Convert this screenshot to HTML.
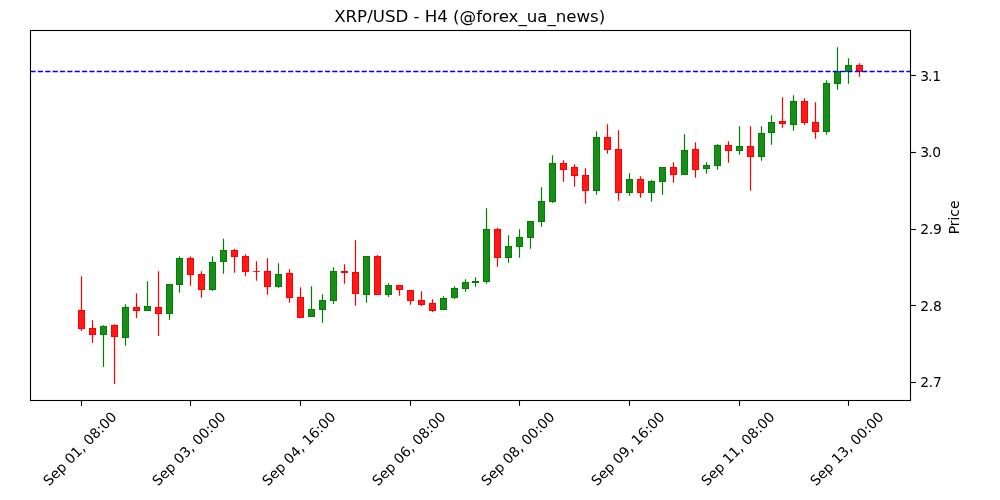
<!DOCTYPE html>
<html><head><meta charset="utf-8"><title>XRP/USD - H4</title>
<style>
html,body{margin:0;padding:0;background:#fff;}
body{width:1000px;height:500px;overflow:hidden;}
svg{display:block;}
text{font-family:"DejaVu Sans","Liberation Sans",sans-serif;font-size:13.89px;fill:#000;}
.title{font-size:16.67px;}
</style></head><body>
<svg width="1000" height="500" viewBox="0 0 1000 500">
<rect width="1000" height="500" fill="#fff"/>
<g>
<line x1="81.50" y1="276.25" x2="81.50" y2="330.95" stroke="#ff0000" stroke-width="1.2"/>
<rect x="78.5" y="310.5" width="6" height="18" fill="#ff1a1a" stroke="#ff0000" stroke-width="1"/>
<line x1="92.50" y1="320.25" x2="92.50" y2="342.95" stroke="#ff0000" stroke-width="1.2"/>
<rect x="89.5" y="328.5" width="6" height="6" fill="#ff1a1a" stroke="#ff0000" stroke-width="1"/>
<line x1="103.50" y1="325.25" x2="103.50" y2="366.95" stroke="#008000" stroke-width="1.2"/>
<rect x="100.5" y="326.5" width="6" height="8" fill="#1a8c1a" stroke="#008000" stroke-width="1"/>
<line x1="114.50" y1="324.25" x2="114.50" y2="383.95" stroke="#ff0000" stroke-width="1.2"/>
<rect x="111.5" y="325.5" width="6" height="11" fill="#ff1a1a" stroke="#ff0000" stroke-width="1"/>
<line x1="125.50" y1="304.25" x2="125.50" y2="345.75" stroke="#008000" stroke-width="1.2"/>
<rect x="122.5" y="307.5" width="6" height="30" fill="#1a8c1a" stroke="#008000" stroke-width="1"/>
<line x1="136.50" y1="293.25" x2="136.50" y2="317.95" stroke="#ff0000" stroke-width="1.2"/>
<rect x="133.5" y="307.5" width="6" height="3" fill="#ff1a1a" stroke="#ff0000" stroke-width="1"/>
<line x1="147.50" y1="281.25" x2="147.50" y2="311" stroke="#008000" stroke-width="1.2"/>
<rect x="144.5" y="306.5" width="6" height="4" fill="#1a8c1a" stroke="#008000" stroke-width="1"/>
<line x1="158.50" y1="271.25" x2="158.50" y2="335.95" stroke="#ff0000" stroke-width="1.2"/>
<rect x="155.5" y="307.5" width="6" height="6" fill="#ff1a1a" stroke="#ff0000" stroke-width="1"/>
<line x1="169.50" y1="284" x2="169.50" y2="319.85" stroke="#008000" stroke-width="1.2"/>
<rect x="166.5" y="284.5" width="6" height="29" fill="#1a8c1a" stroke="#008000" stroke-width="1"/>
<line x1="179.50" y1="256.3" x2="179.50" y2="292.75" stroke="#008000" stroke-width="1.2"/>
<rect x="176.5" y="258.5" width="6" height="26" fill="#1a8c1a" stroke="#008000" stroke-width="1"/>
<line x1="190.50" y1="256.3" x2="190.50" y2="285.75" stroke="#ff0000" stroke-width="1.2"/>
<rect x="187.5" y="258.5" width="6" height="16" fill="#ff1a1a" stroke="#ff0000" stroke-width="1"/>
<line x1="201.50" y1="271.25" x2="201.50" y2="297.75" stroke="#ff0000" stroke-width="1.2"/>
<rect x="198.5" y="274.5" width="6" height="15" fill="#ff1a1a" stroke="#ff0000" stroke-width="1"/>
<line x1="212.50" y1="256.3" x2="212.50" y2="290.85" stroke="#008000" stroke-width="1.2"/>
<rect x="209.5" y="262.5" width="6" height="27" fill="#1a8c1a" stroke="#008000" stroke-width="1"/>
<line x1="223.50" y1="238.85" x2="223.50" y2="273.75" stroke="#008000" stroke-width="1.2"/>
<rect x="220.5" y="250.5" width="6" height="11" fill="#1a8c1a" stroke="#008000" stroke-width="1"/>
<line x1="234.50" y1="248.85" x2="234.50" y2="272.75" stroke="#ff0000" stroke-width="1.2"/>
<rect x="231.5" y="250.5" width="6" height="6" fill="#ff1a1a" stroke="#ff0000" stroke-width="1"/>
<line x1="245.50" y1="254.25" x2="245.50" y2="275.95" stroke="#ff0000" stroke-width="1.2"/>
<rect x="242.5" y="256.5" width="6" height="15" fill="#ff1a1a" stroke="#ff0000" stroke-width="1"/>
<line x1="256.50" y1="261.25" x2="256.50" y2="280.75" stroke="#ff0000" stroke-width="1.2"/>
<rect x="253" y="271" width="7" height="1" fill="#ff0000" opacity="0.85"/>
<line x1="267.50" y1="258.25" x2="267.50" y2="294.75" stroke="#ff0000" stroke-width="1.2"/>
<rect x="264.5" y="271.5" width="6" height="15" fill="#ff1a1a" stroke="#ff0000" stroke-width="1"/>
<line x1="278.50" y1="263.25" x2="278.50" y2="287.95" stroke="#008000" stroke-width="1.2"/>
<rect x="275.5" y="274.5" width="6" height="12" fill="#1a8c1a" stroke="#008000" stroke-width="1"/>
<line x1="289.50" y1="269.25" x2="289.50" y2="302.75" stroke="#ff0000" stroke-width="1.2"/>
<rect x="286.5" y="273.5" width="6" height="24" fill="#ff1a1a" stroke="#ff0000" stroke-width="1"/>
<line x1="300.50" y1="287.25" x2="300.50" y2="318" stroke="#ff0000" stroke-width="1.2"/>
<rect x="297.5" y="297.5" width="6" height="20" fill="#ff1a1a" stroke="#ff0000" stroke-width="1"/>
<line x1="311.50" y1="286.25" x2="311.50" y2="317" stroke="#008000" stroke-width="1.2"/>
<rect x="308.5" y="309.5" width="6" height="7" fill="#1a8c1a" stroke="#008000" stroke-width="1"/>
<line x1="322.50" y1="294.25" x2="322.50" y2="322.75" stroke="#008000" stroke-width="1.2"/>
<rect x="319.5" y="300.5" width="6" height="9" fill="#1a8c1a" stroke="#008000" stroke-width="1"/>
<line x1="333.50" y1="267.25" x2="333.50" y2="303.95" stroke="#008000" stroke-width="1.2"/>
<rect x="330.5" y="271.5" width="6" height="29" fill="#1a8c1a" stroke="#008000" stroke-width="1"/>
<line x1="344.50" y1="264.25" x2="344.50" y2="283.75" stroke="#ff0000" stroke-width="1.2"/>
<rect x="341.5" y="271.5" width="6" height="1" fill="#ff1a1a" stroke="#ff0000" stroke-width="1"/>
<line x1="355.50" y1="240.25" x2="355.50" y2="305.75" stroke="#ff0000" stroke-width="1.2"/>
<rect x="352.5" y="272.5" width="6" height="21" fill="#ff1a1a" stroke="#ff0000" stroke-width="1"/>
<line x1="366.50" y1="256" x2="366.50" y2="302.75" stroke="#008000" stroke-width="1.2"/>
<rect x="363.5" y="256.5" width="6" height="38" fill="#1a8c1a" stroke="#008000" stroke-width="1"/>
<line x1="377.50" y1="255.05" x2="377.50" y2="295" stroke="#ff0000" stroke-width="1.2"/>
<rect x="374.5" y="256.5" width="6" height="38" fill="#ff1a1a" stroke="#ff0000" stroke-width="1"/>
<line x1="388.50" y1="283.25" x2="388.50" y2="296.95" stroke="#008000" stroke-width="1.2"/>
<rect x="385.5" y="285.5" width="6" height="9" fill="#1a8c1a" stroke="#008000" stroke-width="1"/>
<line x1="399.50" y1="285" x2="399.50" y2="295.75" stroke="#ff0000" stroke-width="1.2"/>
<rect x="396.5" y="285.5" width="6" height="4" fill="#ff1a1a" stroke="#ff0000" stroke-width="1"/>
<line x1="410.50" y1="290" x2="410.50" y2="304.75" stroke="#ff0000" stroke-width="1.2"/>
<rect x="407.5" y="290.5" width="6" height="10" fill="#ff1a1a" stroke="#ff0000" stroke-width="1"/>
<line x1="421.50" y1="291.25" x2="421.50" y2="305.95" stroke="#ff0000" stroke-width="1.2"/>
<rect x="418.5" y="300.5" width="6" height="4" fill="#ff1a1a" stroke="#ff0000" stroke-width="1"/>
<line x1="432.50" y1="299.25" x2="432.50" y2="311.95" stroke="#ff0000" stroke-width="1.2"/>
<rect x="429.5" y="303.5" width="6" height="7" fill="#ff1a1a" stroke="#ff0000" stroke-width="1"/>
<line x1="443.50" y1="296.25" x2="443.50" y2="310" stroke="#008000" stroke-width="1.2"/>
<rect x="440.5" y="298.5" width="6" height="11" fill="#1a8c1a" stroke="#008000" stroke-width="1"/>
<line x1="454.50" y1="286.25" x2="454.50" y2="298.95" stroke="#008000" stroke-width="1.2"/>
<rect x="451.5" y="288.5" width="6" height="9" fill="#1a8c1a" stroke="#008000" stroke-width="1"/>
<line x1="465.50" y1="279.25" x2="465.50" y2="291.75" stroke="#008000" stroke-width="1.2"/>
<rect x="462.5" y="282.5" width="6" height="6" fill="#1a8c1a" stroke="#008000" stroke-width="1"/>
<line x1="475.50" y1="277.25" x2="475.50" y2="286.75" stroke="#008000" stroke-width="1.2"/>
<rect x="472.5" y="281.5" width="6" height="1" fill="#1a8c1a" stroke="#008000" stroke-width="1"/>
<line x1="486.50" y1="208.25" x2="486.50" y2="283.75" stroke="#008000" stroke-width="1.2"/>
<rect x="483.5" y="229.5" width="6" height="52" fill="#1a8c1a" stroke="#008000" stroke-width="1"/>
<line x1="497.50" y1="228.05" x2="497.50" y2="266.75" stroke="#ff0000" stroke-width="1.2"/>
<rect x="494.5" y="229.5" width="6" height="28" fill="#ff1a1a" stroke="#ff0000" stroke-width="1"/>
<line x1="508.50" y1="235.25" x2="508.50" y2="262.75" stroke="#008000" stroke-width="1.2"/>
<rect x="505.5" y="246.5" width="6" height="11" fill="#1a8c1a" stroke="#008000" stroke-width="1"/>
<line x1="519.50" y1="229.25" x2="519.50" y2="257.75" stroke="#008000" stroke-width="1.2"/>
<rect x="516.5" y="237.5" width="6" height="9" fill="#1a8c1a" stroke="#008000" stroke-width="1"/>
<line x1="530.50" y1="221" x2="530.50" y2="248.75" stroke="#008000" stroke-width="1.2"/>
<rect x="527.5" y="221.5" width="6" height="16" fill="#1a8c1a" stroke="#008000" stroke-width="1"/>
<line x1="541.50" y1="187.25" x2="541.50" y2="226.75" stroke="#008000" stroke-width="1.2"/>
<rect x="538.5" y="201.5" width="6" height="20" fill="#1a8c1a" stroke="#008000" stroke-width="1"/>
<line x1="552.50" y1="155.25" x2="552.50" y2="202.95" stroke="#008000" stroke-width="1.2"/>
<rect x="549.5" y="163.5" width="6" height="38" fill="#1a8c1a" stroke="#008000" stroke-width="1"/>
<line x1="563.50" y1="160.25" x2="563.50" y2="181.75" stroke="#ff0000" stroke-width="1.2"/>
<rect x="560.5" y="163.5" width="6" height="6" fill="#ff1a1a" stroke="#ff0000" stroke-width="1"/>
<line x1="574.50" y1="164.25" x2="574.50" y2="186.75" stroke="#ff0000" stroke-width="1.2"/>
<rect x="571.5" y="167.5" width="6" height="8" fill="#ff1a1a" stroke="#ff0000" stroke-width="1"/>
<line x1="585.50" y1="168.25" x2="585.50" y2="203.75" stroke="#ff0000" stroke-width="1.2"/>
<rect x="582.5" y="175.5" width="6" height="15" fill="#ff1a1a" stroke="#ff0000" stroke-width="1"/>
<line x1="596.50" y1="131.25" x2="596.50" y2="194.75" stroke="#008000" stroke-width="1.2"/>
<rect x="593.5" y="137.5" width="6" height="53" fill="#1a8c1a" stroke="#008000" stroke-width="1"/>
<line x1="607.50" y1="124.25" x2="607.50" y2="153.75" stroke="#ff0000" stroke-width="1.2"/>
<rect x="604.5" y="137.5" width="6" height="12" fill="#ff1a1a" stroke="#ff0000" stroke-width="1"/>
<line x1="618.50" y1="130.25" x2="618.50" y2="200.75" stroke="#ff0000" stroke-width="1.2"/>
<rect x="615.5" y="149.5" width="6" height="43" fill="#ff1a1a" stroke="#ff0000" stroke-width="1"/>
<line x1="629.50" y1="173.25" x2="629.50" y2="195.75" stroke="#008000" stroke-width="1.2"/>
<rect x="626.5" y="179.5" width="6" height="13" fill="#1a8c1a" stroke="#008000" stroke-width="1"/>
<line x1="640.50" y1="176.25" x2="640.50" y2="197.75" stroke="#ff0000" stroke-width="1.2"/>
<rect x="637.5" y="179.5" width="6" height="13" fill="#ff1a1a" stroke="#ff0000" stroke-width="1"/>
<line x1="651.50" y1="179.85" x2="651.50" y2="201.75" stroke="#008000" stroke-width="1.2"/>
<rect x="648.5" y="181.5" width="6" height="11" fill="#1a8c1a" stroke="#008000" stroke-width="1"/>
<line x1="662.50" y1="167" x2="662.50" y2="194.75" stroke="#008000" stroke-width="1.2"/>
<rect x="659.5" y="167.5" width="6" height="14" fill="#1a8c1a" stroke="#008000" stroke-width="1"/>
<line x1="673.50" y1="162.25" x2="673.50" y2="182.75" stroke="#ff0000" stroke-width="1.2"/>
<rect x="670.5" y="167.5" width="6" height="7" fill="#ff1a1a" stroke="#ff0000" stroke-width="1"/>
<line x1="684.50" y1="134.25" x2="684.50" y2="175" stroke="#008000" stroke-width="1.2"/>
<rect x="681.5" y="150.5" width="6" height="24" fill="#1a8c1a" stroke="#008000" stroke-width="1"/>
<line x1="695.50" y1="142.25" x2="695.50" y2="177.75" stroke="#ff0000" stroke-width="1.2"/>
<rect x="692.5" y="149.5" width="6" height="20" fill="#ff1a1a" stroke="#ff0000" stroke-width="1"/>
<line x1="706.50" y1="162.25" x2="706.50" y2="173.75" stroke="#008000" stroke-width="1.2"/>
<rect x="703.5" y="165.5" width="6" height="3" fill="#1a8c1a" stroke="#008000" stroke-width="1"/>
<line x1="717.50" y1="144.05" x2="717.50" y2="169.75" stroke="#008000" stroke-width="1.2"/>
<rect x="714.5" y="145.5" width="6" height="20" fill="#1a8c1a" stroke="#008000" stroke-width="1"/>
<line x1="728.50" y1="141.25" x2="728.50" y2="162.75" stroke="#ff0000" stroke-width="1.2"/>
<rect x="725.5" y="145.5" width="6" height="5" fill="#ff1a1a" stroke="#ff0000" stroke-width="1"/>
<line x1="739.50" y1="126.25" x2="739.50" y2="154.75" stroke="#008000" stroke-width="1.2"/>
<rect x="736.5" y="146.5" width="6" height="4" fill="#1a8c1a" stroke="#008000" stroke-width="1"/>
<line x1="750.50" y1="126.25" x2="750.50" y2="190.75" stroke="#ff0000" stroke-width="1.2"/>
<rect x="747.5" y="146.5" width="6" height="10" fill="#ff1a1a" stroke="#ff0000" stroke-width="1"/>
<line x1="761.50" y1="126.25" x2="761.50" y2="160.75" stroke="#008000" stroke-width="1.2"/>
<rect x="758.5" y="133.5" width="6" height="23" fill="#1a8c1a" stroke="#008000" stroke-width="1"/>
<line x1="771.50" y1="115.25" x2="771.50" y2="144.75" stroke="#008000" stroke-width="1.2"/>
<rect x="768.5" y="122.5" width="6" height="10" fill="#1a8c1a" stroke="#008000" stroke-width="1"/>
<line x1="782.50" y1="97.25" x2="782.50" y2="127.75" stroke="#ff0000" stroke-width="1.2"/>
<rect x="779.5" y="121.5" width="6" height="2" fill="#ff1a1a" stroke="#ff0000" stroke-width="1"/>
<line x1="793.50" y1="95.25" x2="793.50" y2="130.75" stroke="#008000" stroke-width="1.2"/>
<rect x="790.5" y="101.5" width="6" height="23" fill="#1a8c1a" stroke="#008000" stroke-width="1"/>
<line x1="804.50" y1="98.25" x2="804.50" y2="124.75" stroke="#ff0000" stroke-width="1.2"/>
<rect x="801.5" y="101.5" width="6" height="21" fill="#ff1a1a" stroke="#ff0000" stroke-width="1"/>
<line x1="815.50" y1="102.25" x2="815.50" y2="138.75" stroke="#ff0000" stroke-width="1.2"/>
<rect x="812.5" y="122.5" width="6" height="9" fill="#ff1a1a" stroke="#ff0000" stroke-width="1"/>
<line x1="826.50" y1="80.25" x2="826.50" y2="134.75" stroke="#008000" stroke-width="1.2"/>
<rect x="823.5" y="83.5" width="6" height="48" fill="#1a8c1a" stroke="#008000" stroke-width="1"/>
<line x1="837.50" y1="47.25" x2="837.50" y2="89.75" stroke="#008000" stroke-width="1.2"/>
<rect x="834.5" y="71.5" width="6" height="12" fill="#1a8c1a" stroke="#008000" stroke-width="1"/>
<line x1="848.50" y1="58.25" x2="848.50" y2="83.75" stroke="#008000" stroke-width="1.2"/>
<rect x="845.5" y="65.5" width="6" height="6" fill="#1a8c1a" stroke="#008000" stroke-width="1"/>
<line x1="859.50" y1="63.25" x2="859.50" y2="76.75" stroke="#ff0000" stroke-width="1.2"/>
<rect x="856.5" y="65.5" width="6" height="6" fill="#ff1a1a" stroke="#ff0000" stroke-width="1"/>
</g>
<line x1="30.5" y1="71.5" x2="910.5" y2="71.5" stroke="#0000ff" stroke-width="1.39" stroke-dasharray="5.14 2.22"/>
<rect x="30.5" y="30.5" width="880" height="370" fill="none" stroke="#000" stroke-width="1.1"/>
<line x1="81.5" y1="400.5" x2="81.5" y2="405.9" stroke="#000" stroke-width="1.1"/>
<text x="79.7" y="448.6" text-anchor="middle" transform="rotate(-45 79.7 448.6)" dy="5">Sep 01, 08:00</text>
<line x1="190.5" y1="400.5" x2="190.5" y2="405.9" stroke="#000" stroke-width="1.1"/>
<text x="188.7" y="448.6" text-anchor="middle" transform="rotate(-45 188.7 448.6)" dy="5">Sep 03, 00:00</text>
<line x1="300.5" y1="400.5" x2="300.5" y2="405.9" stroke="#000" stroke-width="1.1"/>
<text x="298.7" y="448.6" text-anchor="middle" transform="rotate(-45 298.7 448.6)" dy="5">Sep 04, 16:00</text>
<line x1="410.5" y1="400.5" x2="410.5" y2="405.9" stroke="#000" stroke-width="1.1"/>
<text x="408.7" y="448.6" text-anchor="middle" transform="rotate(-45 408.7 448.6)" dy="5">Sep 06, 08:00</text>
<line x1="519.5" y1="400.5" x2="519.5" y2="405.9" stroke="#000" stroke-width="1.1"/>
<text x="517.7" y="448.6" text-anchor="middle" transform="rotate(-45 517.7 448.6)" dy="5">Sep 08, 00:00</text>
<line x1="629.5" y1="400.5" x2="629.5" y2="405.9" stroke="#000" stroke-width="1.1"/>
<text x="627.7" y="448.6" text-anchor="middle" transform="rotate(-45 627.7 448.6)" dy="5">Sep 09, 16:00</text>
<line x1="739.5" y1="400.5" x2="739.5" y2="405.9" stroke="#000" stroke-width="1.1"/>
<text x="737.7" y="448.6" text-anchor="middle" transform="rotate(-45 737.7 448.6)" dy="5">Sep 11, 08:00</text>
<line x1="848.5" y1="400.5" x2="848.5" y2="405.9" stroke="#000" stroke-width="1.1"/>
<text x="846.7" y="448.6" text-anchor="middle" transform="rotate(-45 846.7 448.6)" dy="5">Sep 13, 00:00</text>
<line x1="910.5" y1="75.5" x2="915.9" y2="75.5" stroke="#000" stroke-width="1.1"/>
<text x="920.15" y="80.80" dx="0 -1.1 0">3.1</text>
<line x1="910.5" y1="152.5" x2="915.9" y2="152.5" stroke="#000" stroke-width="1.1"/>
<text x="920.15" y="156.80" dx="0 -1.1 0">3.0</text>
<line x1="910.5" y1="229.5" x2="915.9" y2="229.5" stroke="#000" stroke-width="1.1"/>
<text x="920.15" y="233.80" dx="0 -0.2 -0.2">2.9</text>
<line x1="910.5" y1="305.5" x2="915.9" y2="305.5" stroke="#000" stroke-width="1.1"/>
<text x="920.15" y="310.80" dx="0 -0.2 -0.2">2.8</text>
<line x1="910.5" y1="382.5" x2="915.9" y2="382.5" stroke="#000" stroke-width="1.1"/>
<text x="920.15" y="386.80" dx="0 -0.2 -0.2">2.7</text>
<text class="title" x="334.2" y="22.0" letter-spacing="-0.026">XRP/USD - H4 (@forex_ua_news)</text>
<text x="959" y="217.4" text-anchor="middle" transform="rotate(-90 959 217.4)">Price</text>
</svg>
</body></html>
